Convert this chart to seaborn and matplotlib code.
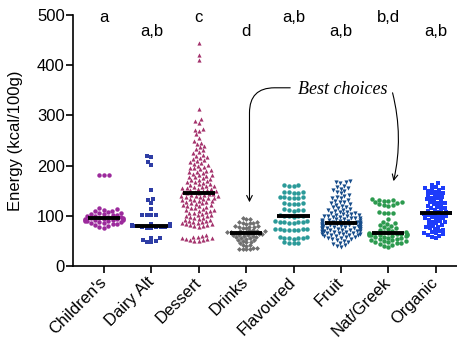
import numpy as np
import pandas as pd
import matplotlib
matplotlib.use("Agg")
import matplotlib.pyplot as plt
import seaborn as sns
import warnings
warnings.filterwarnings("ignore")

categories = ["Children's", "Dairy Alt", "Dessert", "Drinks", "Flavoured", "Fruit", "Nat/Greek", "Organic"]
group_letters = ["a", "a,b", "c", "d", "a,b", "a,b", "b,d", "a,b"]

childrens = [181, 181, 181, 115, 113, 112, 110, 109, 108, 106, 105, 104, 103, 102, 101, 100, 99, 98, 97, 96,
             95, 95, 94, 94, 93, 93, 92, 92, 91, 91, 90, 90, 89, 88, 87, 86, 85, 84, 83, 82, 80, 78, 76]
dairy_alt = [220, 218, 207, 202, 151, 133, 131, 125, 113, 102, 102, 102, 101, 84, 83, 82, 80, 80, 80, 80,
             79, 79, 78, 78, 77, 77, 76, 75, 56, 55, 52, 50, 48, 47]
dessert = [445, 420, 410, 312, 292, 288, 285, 272, 270, 268, 262, 255, 250, 246, 243, 240, 237, 234, 231, 228,
           225, 222, 220, 218, 216, 214, 212, 210, 208, 206, 204, 202, 200, 198, 196, 195, 193, 191, 190, 188,
           187, 185, 184, 182, 181, 180, 178, 177, 175, 174, 172, 171, 170, 168, 167, 166, 164, 163, 162, 160,
           159, 158, 157, 156, 155, 154, 153, 152, 151, 150, 149, 148, 147, 146, 145, 144, 143, 142, 141, 140,
           140, 139, 138, 137, 136, 135, 134, 133, 132, 131, 130, 129, 128, 127, 126, 125, 124, 122, 121, 120,
           119, 118, 116, 115, 114, 112, 111, 110, 109, 108, 106, 105, 104, 102, 101, 100, 99, 98, 96, 95,
           94, 92, 91, 90, 89, 88, 87, 86, 85, 84, 83, 82, 81, 80, 79, 78, 62, 60, 58, 57,
           56, 55, 54, 53, 52, 51, 50, 49]
drinks = [95, 94, 93, 88, 87, 86, 86, 85, 84, 80, 79, 78, 78, 77, 76, 75, 72, 71, 70, 70,
          69, 68, 67, 67, 66, 66, 65, 65, 64, 63, 62, 62, 61, 60, 59, 58, 57, 56, 55, 54,
          52, 51, 50, 48, 47, 45, 42, 41, 40, 35, 34, 33, 33, 34, 35]
flavoured = [162, 161, 160, 159, 148, 147, 147, 146, 145, 138, 137, 137, 136, 136, 135, 126, 125, 124, 124, 123,
             113, 112, 112, 111, 110, 101, 100, 100, 99, 99, 98, 89, 89, 88, 88, 87, 87, 86, 86,
             74, 74, 73, 73, 72, 72, 71, 71, 57, 57, 56, 56, 55, 55, 54, 47, 46, 46, 45]
fruit = [170, 168, 167, 165, 160, 158, 155, 154, 152, 150, 147, 145, 142, 140, 138, 136, 135,
         132, 130, 128, 127, 125, 123, 122, 120, 118, 117, 115, 114, 112, 111,
         110, 108, 107, 106, 105, 104, 103, 102, 101, 100, 100, 99, 98, 97, 96, 95, 95, 94, 93,
         92, 92, 91, 90, 90, 89, 88, 88, 87, 87, 86, 86, 85, 85, 84, 84, 83, 83, 82, 82,
         81, 80, 80, 79, 78, 78, 77, 76, 76, 75, 74, 74, 73, 72, 71, 70, 70, 69, 68, 67,
         84, 82, 80, 78, 76, 74, 72, 70, 68, 66, 64, 62,
         66, 65, 64, 63, 62, 61, 60, 59, 58, 57, 56, 55, 54, 53, 52, 50, 48, 46, 44, 42,
         40, 38]
nat_greek = [133, 132, 131, 130, 129, 128, 127, 125, 123, 122, 121, 120, 107, 106, 106, 105, 94, 88, 86, 84,
             82, 80, 78, 76, 74, 72, 70, 68, 67, 66, 65, 65, 64, 64, 63, 63, 62, 62, 61, 61,
             60, 59, 58, 57, 56, 55, 54, 53, 52, 51, 50, 49, 48, 47, 46, 45, 44, 42, 40, 38]
organic = [165, 162, 158, 156, 155, 153, 152, 150, 148, 146, 145, 143, 141, 140, 138, 136, 135, 133, 131, 130,
           128, 126, 125, 123, 121, 120, 118, 116, 115, 113, 111, 110, 108, 107, 106, 105, 104, 103, 102, 101,
           100, 98, 97, 96, 95, 93, 92, 90, 88, 87, 85, 83, 82, 80, 78, 77, 75, 73, 72, 70,
           68, 66, 65, 63, 62, 60, 58, 56]

series = [childrens, dairy_alt, dessert, drinks, flavoured, fruit, nat_greek, organic]
colors = ["#9C2A9C", "#2E3DA5", "#A4326C", "#6F6F6F", "#2B9A99", "#164C8A", "#2C9A4E", "#1D3CFA"]
markers = ["o", "s", "^", "D", "o", "v", "o", "s"]
msizes = [3.2, 3.2, 3.0, 2.5, 3.2, 3.0, 3.2, 2.9]

sns.set_style("ticks")
plt.rcParams["font.family"] = ["Liberation Sans", "DejaVu Sans"]

fig = plt.figure(figsize=(4.57, 3.43), dpi=100)
ax = fig.add_axes([73 / 457, 1 - 266 / 343, (457 - 73) / 457, (266 - 15) / 343])

for i, (cat, vals) in enumerate(zip(categories, series)):
    df = pd.DataFrame({"cat": [cat] * len(vals), "val": vals})
    sns.swarmplot(data=df, x="cat", y="val", order=categories, color=colors[i],
                  marker=markers[i], size=msizes[i], linewidth=0, ax=ax, zorder=3)
    med = np.median(vals)
    ax.hlines(med, i - 0.34, i + 0.34, color="black", lw=2.8, zorder=5)
    high = (i % 2 == 0)
    ax.text(i, 487 if high else 458, group_letters[i], ha="center", va="baseline",
            fontsize=12, color="black", clip_on=False)

ax.set_xlim(-0.655, 7.45)
ax.set_ylim(0, 500)
ax.set_yticks([0, 100, 200, 300, 400, 500])
ax.set_xlabel("")
ax.set_ylabel("Energy (kcal/100g)", fontsize=12, color="black", labelpad=10)
ax.set_xticks(range(len(categories)))
ax.set_xticklabels(categories, rotation=45, ha="right", va="center", rotation_mode="anchor", fontsize=12)
ax.tick_params(axis="y", labelsize=12, length=5, width=1.2, colors="black", pad=1)
ax.tick_params(axis="x", length=5, width=1.2, colors="black", pad=5)
for s in ["top", "right"]:
    ax.spines[s].set_visible(False)
for s in ["left", "bottom"]:
    ax.spines[s].set_linewidth(1.2)
    ax.spines[s].set_color("black")

ax.text(5.03, 352, "Best choices", ha="center", va="center", fontsize=13,
        family="Liberation Serif", style="italic", color="black")
ax.annotate("", xy=(3.07, 127), xytext=(3.93, 355),
            arrowprops=dict(arrowstyle="->", lw=0.8, color="black", shrinkA=0, shrinkB=0,
                            connectionstyle="angle,angleA=0,angleB=90,rad=25"))
ax.annotate("", xy=(6.11, 169), xytext=(6.09, 345),
            arrowprops=dict(arrowstyle="->", lw=0.8, color="black", shrinkA=0, shrinkB=0,
                            connectionstyle="arc3,rad=-0.12"))

fig.savefig("out.png", dpi=100)
